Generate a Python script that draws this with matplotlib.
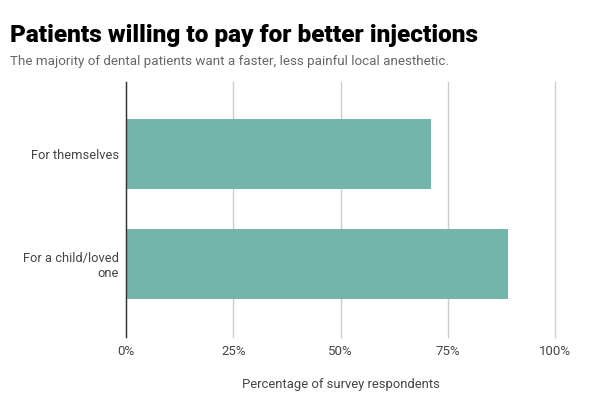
import matplotlib.pyplot as plt
from matplotlib.ticker import FuncFormatter

categories = ["For themselves", "For a child/loved\none"]
values = [71, 89]
ticks = [0, 25, 50, 75, 100]

plt.rcParams['font.family'] = ['Roboto', 'DejaVu Sans']

fig = plt.figure(figsize=(6, 4.2), dpi=100)
ax = fig.add_axes([0.21, 0.1976, 0.715, 0.6072])

ax.barh(range(len(categories)), values, height=0.64, color="#73b5ab", zorder=3)
ax.set_ylim(1.67, -0.66)
ax.set_xlim(0, 100)
ax.set_xticks(ticks)
ax.xaxis.set_major_formatter(FuncFormatter(lambda v, p: f"{v:.0f}%"))
ax.set_yticks(range(len(categories)))
ax.set_yticklabels(categories, fontsize=9.3, color="#444444")
ax.grid(axis="x", color="#cccccc", linewidth=1, zorder=0)
for g in ax.get_xgridlines():
    g.set_clip_on(False)
ax.tick_params(axis="x", length=0, pad=6, labelsize=9.5, labelcolor="#444444")
ax.tick_params(axis="y", length=0, pad=5)
for s in ["top", "right", "bottom"]:
    ax.spines[s].set_visible(False)
ax.spines["left"].set_color("#333333")
ax.spines["left"].set_linewidth(1)
ax.spines["left"].set_zorder(4)

ax.set_xlabel("Percentage of survey respondents", fontsize=9.4, color="#444444", labelpad=14)

fig.text(0.017, 0.9, "Patients willing to pay for better injections",
         fontsize=17.6, fontweight="heavy", color="black", va="baseline")
fig.text(0.017, 0.845, "The majority of dental patients want a faster, less painful local anesthetic.",
         fontsize=9.6, color="#666666", va="baseline")

fig.savefig("out.png")
